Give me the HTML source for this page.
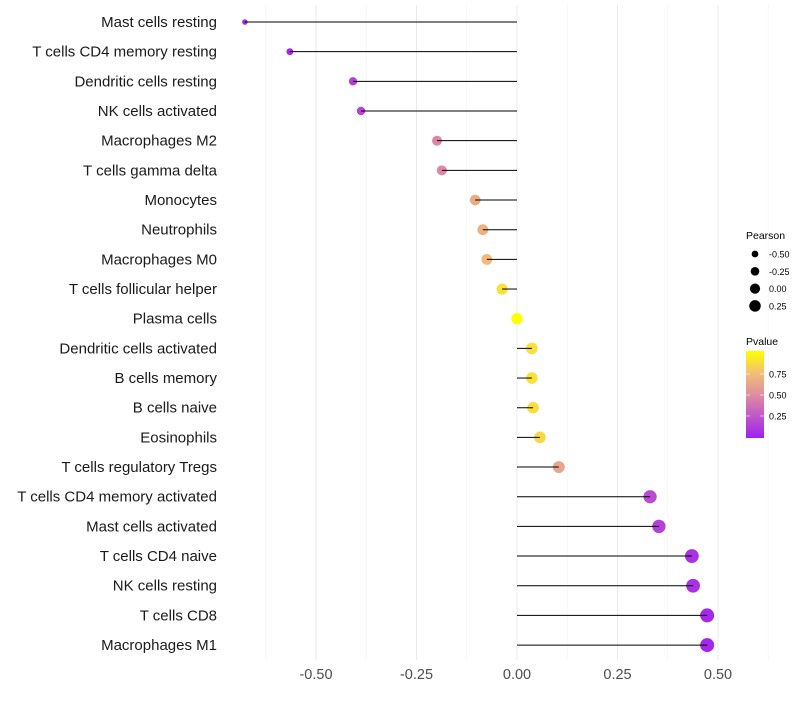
<!DOCTYPE html>
<html><head><meta charset="utf-8"><style>body{margin:0;background:#fff}svg{font-family:"Liberation Sans",sans-serif}</style></head>
<body>
<svg id="c" width="800" height="700"></svg>
<script>
const categories=["Mast cells resting","T cells CD4 memory resting","Dendritic cells resting","NK cells activated","Macrophages M2","T cells gamma delta","Monocytes","Neutrophils","Macrophages M0","T cells follicular helper","Plasma cells","Dendritic cells activated","B cells memory","B cells naive","Eosinophils","T cells regulatory  Tregs ","T cells CD4 memory activated","Mast cells activated","T cells CD4 naive","NK cells resting","T cells CD8","Macrophages M1"];
const pearson=[-0.677,-0.565,-0.408,-0.388,-0.199,-0.187,-0.104,-0.085,-0.075,-0.037,0,0.037,0.037,0.04,0.057,0.104,0.331,0.353,0.435,0.438,0.473,0.473];
const pvalue=[0.03,0.03,0.15,0.17,0.47,0.48,0.65,0.68,0.72,0.88,1.0,0.88,0.88,0.87,0.85,0.62,0.2,0.15,0.08,0.08,0.03,0.03];
const xTicks=[-0.5,-0.25,0,0.25,0.5];
const xTickLabels=["-0.50","-0.25","0.00","0.25","0.50"];
const NS="http://www.w3.org/2000/svg",svg=document.getElementById('c');
function el(t,a,p){const e=document.createElementNS(NS,t);for(const k in a)e.setAttribute(k,a[k]);(p||svg).appendChild(e);return e;}
const xs=v=>517+v*402, ys=i=>22+i*29.67, rs=v=>Math.sqrt(Math.max(3,32+36*v));
const stops=[[0,[160,32,240]],[0.5,[222,142,160]],[0.75,[242,192,115]],[1,[255,255,0]]];
function col(p){p=Math.max(0,Math.min(1,p));let i=0;while(i<stops.length-2&&p>stops[i+1][0])i++;const[a0,a]=stops[i],[b0,b]=stops[i+1];const t=(p-a0)/(b0-a0);return `rgb(${a.map((x,k)=>Math.round(x+(b[k]-x)*t)).join(',')})`;}
for(let k=-5;k<=5;k++){const v=k*0.125;const major=k%2===0;const g=el('line',{x1:xs(v),x2:xs(v),y1:5,y2:660,stroke:major?'#ebebeb':'#f4f4f4','stroke-width':major?1:0.6});}
for(let i=0;i<22;i++){const y=ys(i);
 const l=el('text',{x:217,y:y+5,'text-anchor':'end','font-size':15,fill:'#1a1a1a'});l.textContent=categories[i];
 const c=el('circle',{cx:xs(pearson[i]),cy:y,r:rs(pearson[i]),fill:col(pvalue[i])});
 const s=el('line',{x1:xs(0),x2:xs(pearson[i]),y1:y,y2:y,stroke:'#000','stroke-width':1});}
xTicks.forEach((v,i)=>{const t=el('text',{x:xs(v),y:679,'text-anchor':'middle','font-size':14.5,fill:'#4d4d4d'});t.textContent=xTickLabels[i];});
const lt=el('text',{x:746,y:239,'font-size':10.5,fill:'#000'});lt.textContent='Pearson';
[-0.5,-0.25,0,0.25].forEach((v,i)=>{const y=254+i*17.3;const c=el('circle',{cx:755,cy:y,r:rs(v)*0.9,fill:'#000'});const t=el('text',{x:769,y:y+3.5,'font-size':9,fill:'#000'});t.textContent=v.toFixed(2);});
const pt=el('text',{x:746,y:345,'font-size':10.5,fill:'#000'});pt.textContent='Pvalue';
const d=el('defs',{});const lg=el('linearGradient',{id:'g',x1:0,y1:1,x2:0,y2:0},d);
[0,0.25,0.5,0.75,1].forEach(s=>el('stop',{offset:s,'stop-color':col(s)},lg));
const cb=el('rect',{x:746,y:351,width:18,height:87,fill:'url(#g)'});
[[0.75,374],[0.5,395],[0.25,416]].forEach(a=>{el('line',{x1:746,x2:750,y1:a[1],y2:a[1],stroke:'#fff','stroke-width':0.6});el('line',{x1:760,x2:764,y1:a[1],y2:a[1],stroke:'#fff','stroke-width':0.6});const t=el('text',{x:769,y:a[1]+3.5,'font-size':9,fill:'#000'});t.textContent=a[0].toFixed(2);});
</script>
</body></html>
